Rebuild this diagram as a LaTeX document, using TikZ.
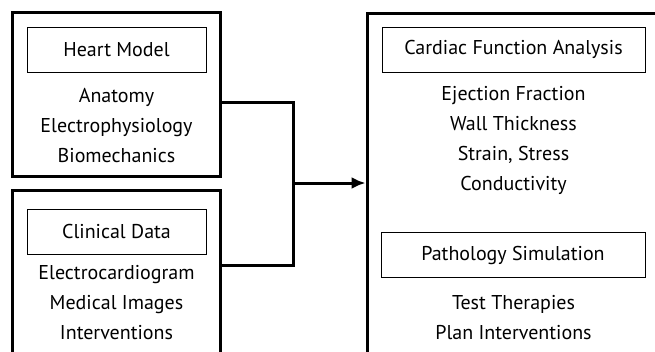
\documentclass[tikz,border=0pt]{standalone}
\usepackage{fontspec}
\setmainfont{PT Sans}
\usetikzlibrary{arrows.meta}

\begin{document}
\begin{tikzpicture}[x=1pt,y=-1pt]
    \tikzset{%
      outer/.style={draw, line width=3pt, inner sep=0pt},
      title/.style={draw, line width=1pt, inner sep=0pt, minimum
        height=45pt, font=\fontsize{20}{24}\selectfont},
      items/.style={align=center, inner sep=0pt,
        font=\fontsize{20}{30}\selectfont},
      link/.style={line width=3pt},
    }
    \clip (0,0) rectangle (655,351);

    \node[outer, minimum width=208pt, minimum height=164pt] (H) at (116,94) {};
    \node[title, minimum width=179pt] (H1) at (116.5,49.5) {Heart Model};
    \node[items] (H2) at (116.5,126) {Anatomy\\Electrophysiology\\Biomechanics};

    \node[outer, minimum width=208pt, minimum height=190pt] (C) at (116,285) {};
    \node[title, minimum width=179pt] (C1) at (116.5,231.5) {Clinical Data};
    \node[items] (C2) at (116.5,303) {Electrocardiogram\\Medical Images\\Interventions};

    \node[outer, minimum width=313pt, minimum height=367pt] (F) at (523.5,196.5) {};
    \node[title, minimum width=263pt] (F1) at (513.5,49.5) {Cardiac Function Analysis};
    \node[items] (F2) at (513.5,140) {Ejection Fraction\\Wall Thickness\\Strain, Stress\\Conductivity};
    \node[title, minimum width=264pt] (P1) at (513,255) {Pathology Simulation};
    \node[items] (P2) at (513.5,318) {Test Therapies\\Plan Interventions};

    \coordinate (J) at (293,183);
    \draw [link] ([yshift=-8pt]H.east) -| (J);
    \draw [link] ([yshift=20pt]C.east) -| (J);
    \draw [link, -{Latex[length=14pt,width=12pt]}] (J) -- (J -| F.west);
  \end{tikzpicture}
\end{document}
